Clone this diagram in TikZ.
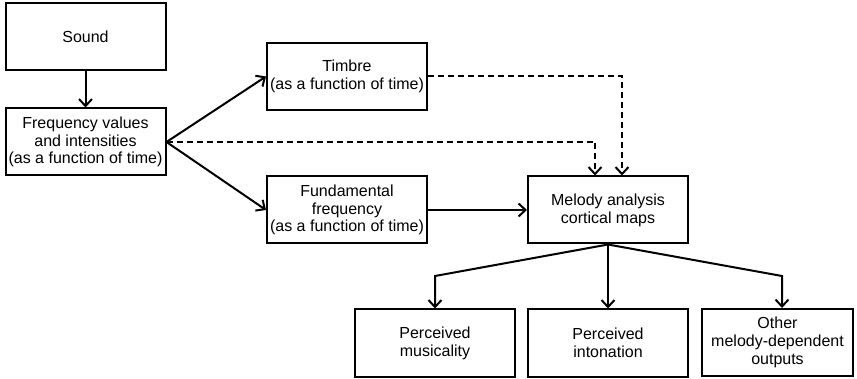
\documentclass[tikz,border=0pt]{standalone}
\usepackage{fontspec}
\setmainfont{Liberation Sans}
\usetikzlibrary{arrows.meta,positioning}

\begin{document}
\begin{tikzpicture}[x=0.5pt,y=-0.5pt,
    box/.style={draw, line width=1pt, align=center, minimum width=80pt, minimum height=33.5pt, inner sep=1pt, font=\fontsize{8}{8.9}\selectfont},
    link/.style={-{Straight Barb[length=3.5pt,width=6.5pt]}, line width=1pt},
    dlink/.style={link, dash pattern=on 3pt off 2pt}]
    \useasboundingbox (0,0) rectangle (857,379);
    \node[box] (sound) at (85.5,36.5) {Sound};
    \node[box] (freq) at (85.5,142) {Frequency values\\and intensities\\(as a function of time)};
    \node[box] (timbre) at (347,76.5) {Timbre\\(as a function of time)};
    \node[box] (fund) at (347,210) {Fundamental\\frequency\\(as a function of time)};
    \node[box] (melody) at (608,210) {Melody analysis\\cortical maps};
    \node[box] (mus) at (435,343) {Perceived\\musicality};
    \node[box] (inton) at (608,343) {Perceived\\intonation};
    \node[box, minimum width=75.5pt] (other) at (777.5,342.5) {Other\\melody-dependent\\outputs};
    \coordinate (lbend) at (435,276);
    \coordinate (rbend) at (782,276);

    \draw[link] (sound) -- (freq);
    \draw[link] (freq.east) -- (timbre.west);
    \draw[link] (freq.east) -- (fund.west);
    \draw[link] (fund) -- (melody);
    \draw[dlink] (freq.east) -| ([xshift=-6.5pt]melody.north);
    \draw[dlink] (timbre.east) -| ([xshift=7pt]melody.north);
    \draw[link] (melody.south) -- (lbend) -- (mus.north);
    \draw[link] (melody) -- (inton);
    \draw[link] (melody.south) -- (rbend) -- (rbend |- other.north);
\end{tikzpicture}
\end{document}
